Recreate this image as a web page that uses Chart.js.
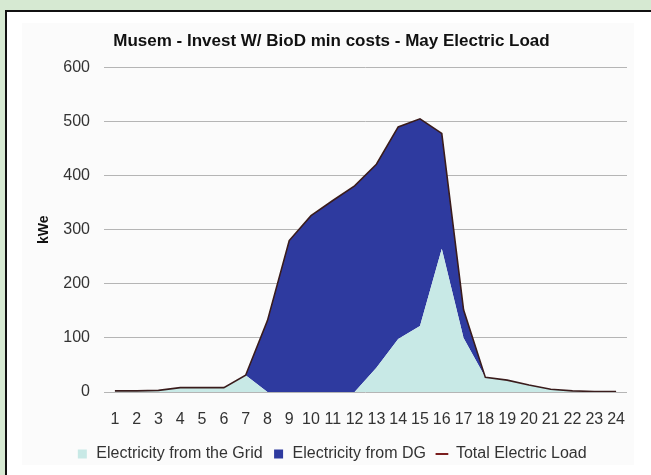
<!DOCTYPE html>
<html>
<head>
<meta charset="utf-8">
<script src="https://cdn.jsdelivr.net/npm/chart.js@4.4.0/dist/chart.umd.min.js"></script>
<style>
  html, body { margin: 0; padding: 0; }
  body { width: 651px; height: 475px; background: #d6e9d2; position: relative; overflow: hidden; }
  #frame { position: absolute; left: 5px; top: 10px; width: 660px; height: 480px; background: #fff; border: 2px solid #111; }
  #paste { position: absolute; left: 22px; top: 23px; width: 612px; height: 442px; background: #fbfbfb; }
  #chart { position: absolute; left: 0; top: 0; }
</style>
</head>
<body>
<div id="frame"></div>
<div id="paste"></div>
<canvas id="chart" width="651" height="475"></canvas>
<script>
// Horas do dia
const hours = ['1','2','3','4','5','6','7','8','9','10','11','12','13','14','15','16','17','18','19','20','21','22','23','24'];

// Valores (kWe)
const gridKwe  = [2, 2, 3, 8, 8, 8, 31, 0, 0, 0, 0, 0, 45, 98, 122, 265, 100, 27, 22, 13, 5, 2, 1, 1];
const dgKwe    = [0, 0, 0, 0, 0, 0, 0, 132, 280, 326, 354, 381, 376, 392, 383, 213, 52, 0, 0, 0, 0, 0, 0, 0];
const totalKwe = [2, 2, 3, 8, 8, 8, 31, 132, 280, 326, 354, 381, 421, 490, 505, 478, 152, 27, 22, 13, 5, 2, 1, 1];

const yTicks = [0, 100, 200, 300, 400, 500, 600];

const fontFamily = '"Liberation Sans", Arial, sans-serif';

const ctx = document.getElementById('chart').getContext('2d');
new Chart(ctx, {
    type: 'line',
    data: {
        labels: hours,
        datasets: [
            {
                label: 'Electricity from the Grid',
                data: gridKwe,
                stack: 'supply',
                fill: 'origin',
                backgroundColor: '#c8e9e6',
                borderWidth: 0,
                pointRadius: 0,
                order: 1
            },
            {
                label: 'Electricity from DG',
                data: dgKwe,
                stack: 'supply',
                fill: '-1',
                backgroundColor: '#2e3a9f',
                borderWidth: 0,
                pointRadius: 0,
                order: 2
            },
            {
                label: 'Total Electric Load',
                data: totalKwe,
                stack: 'load',
                fill: false,
                borderColor: '#3a1c1c',
                backgroundColor: '#7a1e1e',
                borderWidth: 1.6,
                pointRadius: 0,
                order: 0
            }
        ]
    },
    options: {
        responsive: false,
        animation: false,
        layout: { padding: { left: 36, right: 24, top: 0, bottom: 3 } },
        plugins: {
            title: {
                display: true,
                text: 'Musem - Invest W/ BioD min costs - May Electric Load',
                color: '#111',
                font: { family: fontFamily, size: 17, weight: 'bold' },
                padding: { top: 31, bottom: 16 }
            },
            legend: {
                position: 'bottom',
                labels: {
                    color: '#333',
                    font: { family: fontFamily, size: 16 },
                    usePointStyle: true,
                    boxWidth: 12,
                    boxHeight: 9,
                    padding: 10,
                    generateLabels: (chart) => chart.data.datasets.map((ds, i) => ({
                        text: ds.label,
                        fillStyle: ds.backgroundColor,
                        strokeStyle: i === 2 ? '#7a1e1e' : ds.backgroundColor,
                        lineWidth: i === 2 ? 2 : 0,
                        pointStyle: i === 2 ? 'line' : 'rect',
                        datasetIndex: i,
                        fontColor: '#333'
                    }))
                }
            },
            tooltip: { enabled: false }
        },
        scales: {
            x: {
                offset: true,
                grid: { display: false, drawTicks: false },
                border: { display: false },
                ticks: {
                    color: '#333',
                    font: { family: fontFamily, size: 16 },
                    padding: 18,
                    maxRotation: 0,
                    autoSkip: false
                },
                afterFit: (scale) => { scale.height = 44; }
            },
            y: {
                stacked: true,
                min: 0,
                max: 600,
                afterBuildTicks: (scale) => { scale.ticks = yTicks.map(v => ({ value: v })); },
                grid: { color: '#b5b5b5', lineWidth: 1, drawTicks: false },
                border: { display: false },
                ticks: {
                    color: '#333',
                    font: { family: fontFamily, size: 16 },
                    padding: 14
                },
                title: {
                    display: true,
                    text: 'kWe',
                    color: '#111',
                    font: { family: fontFamily, size: 14, weight: 'bold' },
                    padding: 0
                },
                afterFit: (scale) => { scale.width = 68; }
            }
        }
    }
});
</script>
</body>
</html>
